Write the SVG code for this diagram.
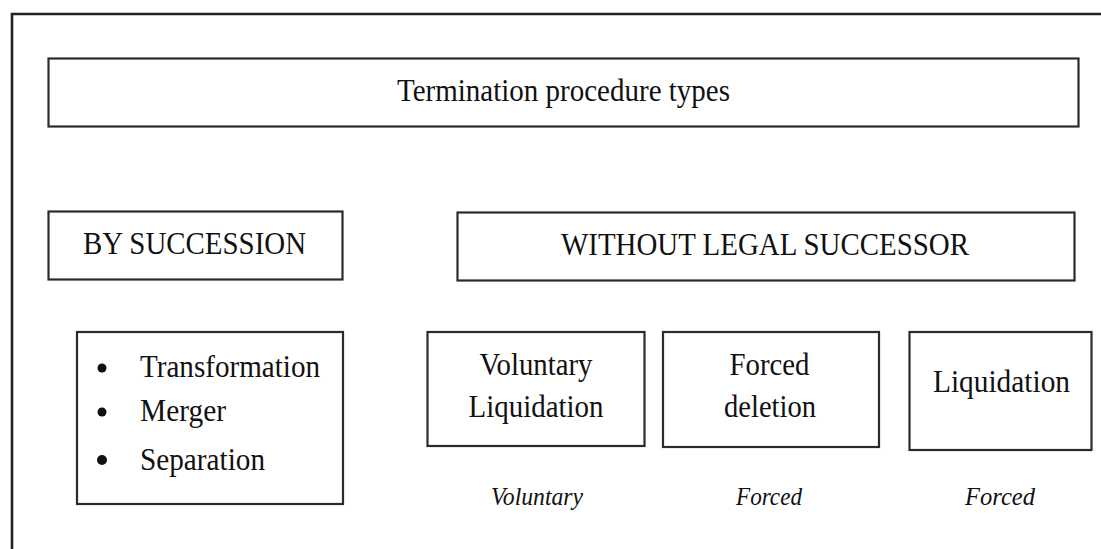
<svg xmlns="http://www.w3.org/2000/svg" width="1101" height="549" viewBox="0 0 1101 549">
  <style>
    .box { fill: #ffffff; stroke: #2b2b2b; stroke-width: 2.2; }
    .frame { fill: none; stroke: #222222; stroke-width: 2.6; }
    .t { font-family: "Liberation Serif", "Times New Roman", serif; font-size: 32px; fill: #111111; text-anchor: middle; }
    .l { font-family: "Liberation Serif", "Times New Roman", serif; font-size: 32px; fill: #111111; }
    .i { font-family: "Liberation Serif", "Times New Roman", serif; font-size: 26px; font-style: italic; fill: #111111; text-anchor: middle; }
    .dot { fill: #111111; }
  </style>
  <rect x="0" y="0" width="1101" height="549" fill="#ffffff"/>
  <path class="frame" d="M12,549 V14 H1101"/>

  <g id="title">
    <rect class="box" x="48.5" y="58.5" width="1030" height="68"/>
    <text class="t" x="563.5" y="101" textLength="333" lengthAdjust="spacingAndGlyphs">Termination procedure types</text>
  </g>

  <g id="by-succession">
    <rect class="box" x="48.5" y="211.5" width="294" height="68"/>
    <text class="t" x="194.5" y="253.5" textLength="223" lengthAdjust="spacingAndGlyphs">BY SUCCESSION</text>
  </g>

  <g id="without-legal-successor">
    <rect class="box" x="457.5" y="212.5" width="617" height="68"/>
    <text class="t" x="765" y="254.5" textLength="408" lengthAdjust="spacingAndGlyphs">WITHOUT LEGAL SUCCESSOR</text>
  </g>

  <g id="succession-list">
    <rect class="box" x="77" y="332" width="266" height="172"/>
    <circle class="dot" cx="102" cy="368" r="4.5"/>
    <circle class="dot" cx="102" cy="412" r="4.5"/>
    <circle class="dot" cx="102" cy="460" r="5"/>
    <text class="l" x="140" y="377" textLength="180" lengthAdjust="spacingAndGlyphs">Transformation</text>
    <text class="l" x="140" y="421" textLength="86" lengthAdjust="spacingAndGlyphs">Merger</text>
    <text class="l" x="140" y="470" textLength="125" lengthAdjust="spacingAndGlyphs">Separation</text>
  </g>

  <g id="voluntary-liquidation">
    <rect class="box" x="427.5" y="332" width="217" height="114"/>
    <text class="t" x="536" y="375" textLength="113" lengthAdjust="spacingAndGlyphs">Voluntary</text>
    <text class="t" x="536" y="417" textLength="135" lengthAdjust="spacingAndGlyphs">Liquidation</text>
  </g>

  <g id="forced-deletion">
    <rect class="box" x="663" y="332" width="216" height="115"/>
    <text class="t" x="769.5" y="375" textLength="80" lengthAdjust="spacingAndGlyphs">Forced</text>
    <text class="t" x="770" y="417" textLength="92" lengthAdjust="spacingAndGlyphs">deletion</text>
  </g>

  <g id="liquidation">
    <rect class="box" x="909.5" y="332" width="182" height="118"/>
    <text class="t" x="1001.5" y="392" textLength="137" lengthAdjust="spacingAndGlyphs">Liquidation</text>
  </g>

  <g id="labels">
    <text class="i" x="537" y="505" textLength="92" lengthAdjust="spacingAndGlyphs">Voluntary</text>
    <text class="i" x="769" y="505" textLength="66" lengthAdjust="spacingAndGlyphs">Forced</text>
    <text class="i" x="1000" y="505" textLength="70" lengthAdjust="spacingAndGlyphs">Forced</text>
  </g>

  <g id="connectors"></g>
</svg>
